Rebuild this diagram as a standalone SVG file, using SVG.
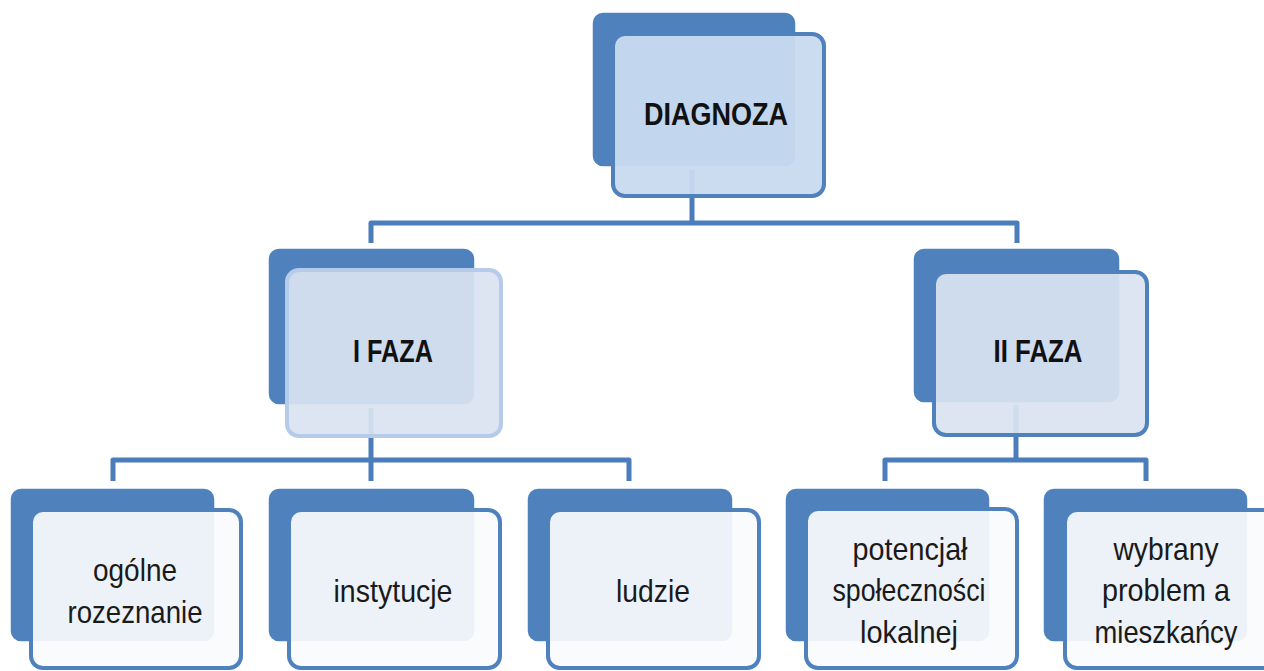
<svg xmlns="http://www.w3.org/2000/svg" width="1264" height="671" viewBox="0 0 1264 671">
<style>
.bg{fill:#ffffff}
.back{fill:#4f81bd;stroke:#ffffff;stroke-width:1.5}
.f1{fill:#c8daef;fill-opacity:0.95;stroke:#4f81bd;stroke-width:4}
.f2a{fill:#d9e3f0;fill-opacity:0.93;stroke:#b6cbea;stroke-width:4}
.f2b{fill:#d9e3f0;fill-opacity:0.93;stroke:#4f81bd;stroke-width:4}
.f3{fill:#fafbfd;fill-opacity:0.93;stroke:#4f81bd;stroke-width:4}
.conn{fill:none;stroke:#4a7dba;stroke-width:5;stroke-linejoin:round}
.tb{font-family:"Liberation Sans",Arial,sans-serif;font-weight:bold;font-size:32px;fill:#111111;text-anchor:middle}
.tr{font-family:"Liberation Sans",Arial,sans-serif;font-size:32px;fill:#1a1a1a;text-anchor:middle}
</style>
<rect class="bg" x="0" y="0" width="1264" height="671"/>
<g id="connectors">
<path class="conn" d="M692,170 V223"/>
<path class="conn" d="M371,243 V223 H1017 V243"/>
<path class="conn" d="M371,408 V481"/>
<path class="conn" d="M113,481 V460 H629 V481"/>
<path class="conn" d="M1016,405 V460"/>
<path class="conn" d="M885,481 V460 H1146 V481"/>
</g>
<g id="diagnoza">
<rect class="back" x="592" y="12" width="204" height="155" rx="11"/>
<rect class="f1" x="613" y="34" width="211" height="162" rx="12"/>
<text class="tb" x="716" y="125" textLength="144" lengthAdjust="spacingAndGlyphs">DIAGNOZA</text>
</g>
<g id="faza1">
<rect class="back" x="268" y="248" width="207" height="157" rx="11"/>
<rect class="f2a" x="287" y="270" width="214" height="166" rx="12"/>
<text class="tb" x="393" y="362" textLength="80" lengthAdjust="spacingAndGlyphs">I FAZA</text>
</g>
<g id="faza2">
<rect class="back" x="913" y="248" width="207" height="155" rx="11"/>
<rect class="f2b" x="934" y="272" width="213" height="163" rx="12"/>
<text class="tb" x="1038" y="362" textLength="89" lengthAdjust="spacingAndGlyphs">II FAZA</text>
</g>
<g id="ogolne">
<rect class="back" x="10" y="488" width="205" height="154" rx="11"/>
<rect class="f3" x="31" y="510" width="210" height="158" rx="12"/>
<text class="tr" x="135" y="581" textLength="84" lengthAdjust="spacingAndGlyphs">ogólne</text>
<text class="tr" x="135" y="623" textLength="135" lengthAdjust="spacingAndGlyphs">rozeznanie</text>
</g>
<g id="instytucje">
<rect class="back" x="268" y="488" width="207" height="154" rx="11"/>
<rect class="f3" x="289" y="510" width="211" height="158" rx="12"/>
<text class="tr" x="393" y="602" textLength="119" lengthAdjust="spacingAndGlyphs">instytucje</text>
</g>
<g id="ludzie">
<rect class="back" x="527" y="488" width="206" height="154" rx="11"/>
<rect class="f3" x="548" y="510" width="211" height="158" rx="12"/>
<text class="tr" x="653" y="602" textLength="74" lengthAdjust="spacingAndGlyphs">ludzie</text>
</g>
<g id="potencjal">
<rect class="back" x="785" y="488" width="205" height="154" rx="11"/>
<rect class="f3" x="806" y="509" width="211" height="159" rx="12"/>
<text class="tr" x="910" y="560" textLength="115" lengthAdjust="spacingAndGlyphs">potencjał</text>
<text class="tr" x="909" y="601" textLength="153" lengthAdjust="spacingAndGlyphs">społeczności</text>
<text class="tr" x="909" y="643" textLength="98" lengthAdjust="spacingAndGlyphs">lokalnej</text>
</g>
<g id="wybrany">
<rect class="back" x="1043" y="488" width="205" height="154" rx="11"/>
<rect class="f3" x="1065" y="510" width="211" height="158" rx="12"/>
<text class="tr" x="1166" y="560" textLength="105" lengthAdjust="spacingAndGlyphs">wybrany</text>
<text class="tr" x="1166" y="601" textLength="128" lengthAdjust="spacingAndGlyphs">problem a</text>
<text class="tr" x="1166" y="643" textLength="143" lengthAdjust="spacingAndGlyphs">mieszkańcy</text>
</g>
</svg>
